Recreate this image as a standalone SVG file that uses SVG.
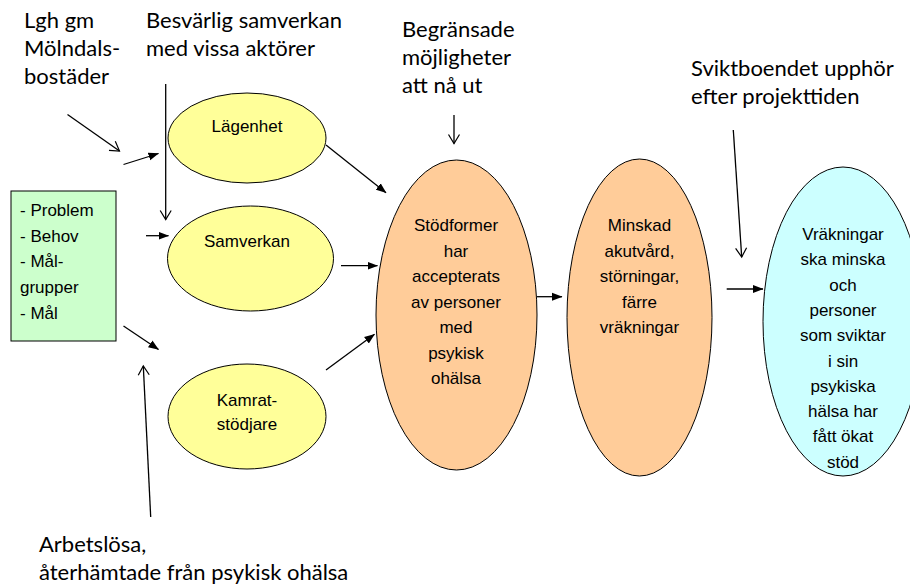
<svg xmlns="http://www.w3.org/2000/svg" width="910" height="586" viewBox="0 0 910 586">
  <defs>
    <marker id="fill" markerUnits="userSpaceOnUse" markerWidth="11" markerHeight="9" refX="10" refY="4.5" orient="auto">
      <path d="M0,0.5 L10.5,4.5 L0,8.5 Z" fill="#000"/>
    </marker>
    <marker id="open" markerUnits="userSpaceOnUse" markerWidth="12" markerHeight="14" refX="10" refY="7" orient="auto">
      <path d="M1,1.5 L10,7 L1,12.5" fill="none" stroke="#000" stroke-width="1.2"/>
    </marker>
  </defs>
  <style>
    .note { font-family: Lato, "Liberation Sans", sans-serif; font-size: 22px; fill: #000; }
    .lbl { font-family: "Liberation Sans", Arial, sans-serif; font-size: 17px; fill: #000; text-anchor: middle; }
    .box { font-family: "Liberation Sans", Arial, sans-serif; font-size: 17px; fill: #000; }
    .shape { stroke: #000; stroke-width: 1; }
    .yel { fill: #FFFF99; }
    .ora { fill: #FFCC99; }
    .blu { fill: #CCFFFF; }
    .grn { fill: #CCFFCC; }
    .c { stroke: #000; stroke-width: 1.3; fill: none; }
    .cf { marker-end: url(#fill); }
    .co { marker-end: url(#open); }
  </style>
  <rect width="910" height="586" fill="#fff"/>

  <g id="notes">
    <text class="note" x="24" y="27.5">Lgh gm</text>
    <text class="note" x="24" y="55.5">Mölndals-</text>
    <text class="note" x="24" y="83.5">bostäder</text>
    <text class="note" x="146" y="27.5">Besvärlig samverkan</text>
    <text class="note" x="146" y="55.5">med vissa aktörer</text>
    <text class="note" x="402" y="36.5">Begränsade</text>
    <text class="note" x="402" y="64.5">möjligheter</text>
    <text class="note" x="402" y="92.5">att nå ut</text>
    <text class="note" x="691" y="76">Sviktboendet upphör</text>
    <text class="note" x="691" y="104">efter projekttiden</text>
    <text class="note" x="39" y="552">Arbetslösa,</text>
    <text class="note" x="39" y="580">återhämtade från psykisk ohälsa</text>
  </g>

  <g id="box">
    <rect class="shape grn" x="11" y="191" width="105" height="150"/>
    <text class="box" x="20" y="215.5">- Problem</text>
    <text class="box" x="20" y="241.5">- Behov</text>
    <text class="box" x="20" y="267">- Mål-</text>
    <text class="box" x="20" y="293">grupper</text>
    <text class="box" x="20" y="318.5">- Mål</text>
  </g>

  <g id="lagenhet">
    <ellipse class="shape yel" cx="247" cy="138" rx="79" ry="45"/>
    <text class="lbl" x="247" y="132">Lägenhet</text>
  </g>
  <g id="samverkan">
    <ellipse class="shape yel" cx="250.5" cy="258.5" rx="83" ry="52.5"/>
    <text class="lbl" x="247" y="246.5">Samverkan</text>
  </g>
  <g id="kamrat">
    <ellipse class="shape yel" cx="247" cy="416.5" rx="79" ry="52.5"/>
    <text class="lbl" x="247" y="406">Kamrat-</text>
    <text class="lbl" x="247" y="430">stödjare</text>
  </g>

  <g id="stodformer">
    <ellipse class="shape ora" cx="456.5" cy="315" rx="80.5" ry="155"/>
    <text class="lbl" x="456" y="231">Stödformer</text>
    <text class="lbl" x="456" y="256.5">har</text>
    <text class="lbl" x="456" y="282">accepterats</text>
    <text class="lbl" x="456" y="307.5">av personer</text>
    <text class="lbl" x="456" y="333">med</text>
    <text class="lbl" x="456" y="358.5">psykisk</text>
    <text class="lbl" x="456" y="384">ohälsa</text>
  </g>

  <g id="minskad">
    <ellipse class="shape ora" cx="639.5" cy="317.5" rx="72.5" ry="158.5"/>
    <text class="lbl" x="639.5" y="231">Minskad</text>
    <text class="lbl" x="639.5" y="256.5">akutvård,</text>
    <text class="lbl" x="639.5" y="282">störningar,</text>
    <text class="lbl" x="639.5" y="307.5">färre</text>
    <text class="lbl" x="639.5" y="333">vräkningar</text>
  </g>

  <g id="vrakningar">
    <ellipse class="shape blu" cx="843" cy="321.5" rx="80" ry="154.5"/>
    <text class="lbl" x="843" y="240">Vräkningar</text>
    <text class="lbl" x="843" y="265.3">ska minska</text>
    <text class="lbl" x="843" y="290.6">och</text>
    <text class="lbl" x="843" y="315.9">personer</text>
    <text class="lbl" x="843" y="341.2">som sviktar</text>
    <text class="lbl" x="843" y="366.5">i sin</text>
    <text class="lbl" x="843" y="391.8">psykiska</text>
    <text class="lbl" x="843" y="417.1">hälsa har</text>
    <text class="lbl" x="843" y="442.4">fått ökat</text>
    <text class="lbl" x="843" y="467.7">stöd</text>
  </g>

  <g id="connectors">
    <line class="c co" x1="67.5" y1="114.5" x2="119.5" y2="151"/>
    <line class="c cf" x1="123.5" y1="164.5" x2="158.5" y2="153.5"/>
    <line class="c co" x1="165.7" y1="84" x2="165.7" y2="219.5"/>
    <line class="c cf" x1="146" y1="235.7" x2="168.5" y2="235.7"/>
    <line class="c cf" x1="123.5" y1="326" x2="158.5" y2="349.5"/>
    <line class="c co" x1="150.7" y1="517" x2="143.3" y2="366"/>
    <line class="c cf" x1="326" y1="145" x2="386" y2="192.7"/>
    <line class="c cf" x1="341" y1="265.7" x2="377.5" y2="265.7"/>
    <line class="c cf" x1="326" y1="370" x2="374.5" y2="334.3"/>
    <line class="c co" x1="454" y1="115" x2="454" y2="143.5"/>
    <line class="c cf" x1="537" y1="296.7" x2="562" y2="296.7"/>
    <line class="c co" x1="733.3" y1="130" x2="741.7" y2="257"/>
    <line class="c cf" x1="726.7" y1="289" x2="763" y2="289"/>
  </g>
</svg>
